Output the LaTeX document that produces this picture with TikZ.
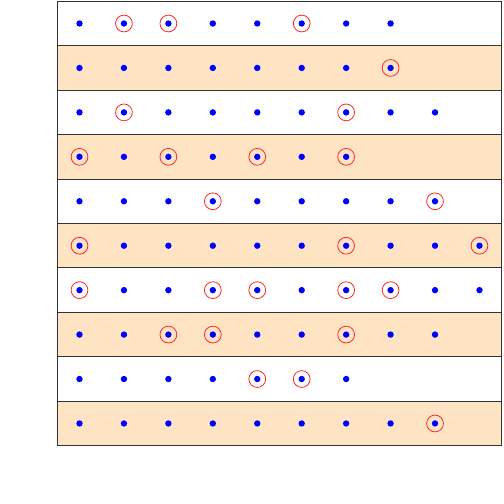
\documentclass[tikz,border=0pt]{standalone}
\usepackage{tikz}
\definecolor{bisque}{RGB}{255,228,196}

\begin{document}
\begin{tikzpicture}[x=0.5pt, y=-0.5pt,
    band/.style={draw=black!80, line width=0.5pt},
    dot/.style={circle, fill=blue, inner sep=0pt, minimum size=3.2pt},
    mark ring/.style={circle, draw=red!85!white, line width=0.4pt, inner sep=0pt, minimum size=8.4pt}
    ]
    \useasboundingbox (0,0) rectangle (504,504);
    % rows: number/count of dots/ringed dots
    \foreach \r/\n/\rings in {1/8/{2,3,6}, 2/8/{8}, 3/9/{2,7}, 4/7/{1,3,5,7},
        5/9/{4,9}, 6/10/{1,7,10}, 7/10/{1,4,5,7,8}, 8/9/{3,4,7},
        9/7/{5,6}, 10/9/{9}} {
      \pgfmathsetmacro{\top}{1.3+44.44*(\r-1)}
      \pgfmathsetmacro{\bot}{1.3+44.44*\r}
      \ifodd\r
        \draw[band, fill=white] (57.3,\top) rectangle (501.7,\bot);
      \else
        \draw[band, fill=bisque] (57.3,\top) rectangle (501.7,\bot);
      \fi
      \foreach \c in {1,...,\n}
        \node[dot] (d-\r-\c) at ({79.5+44.44*(\c-1)}, {\top+22.2}) {};
      \foreach \m in \rings
        \node[mark ring] (m-\r-\m) at (d-\r-\m) {};
    }
  \end{tikzpicture}
\end{document}
